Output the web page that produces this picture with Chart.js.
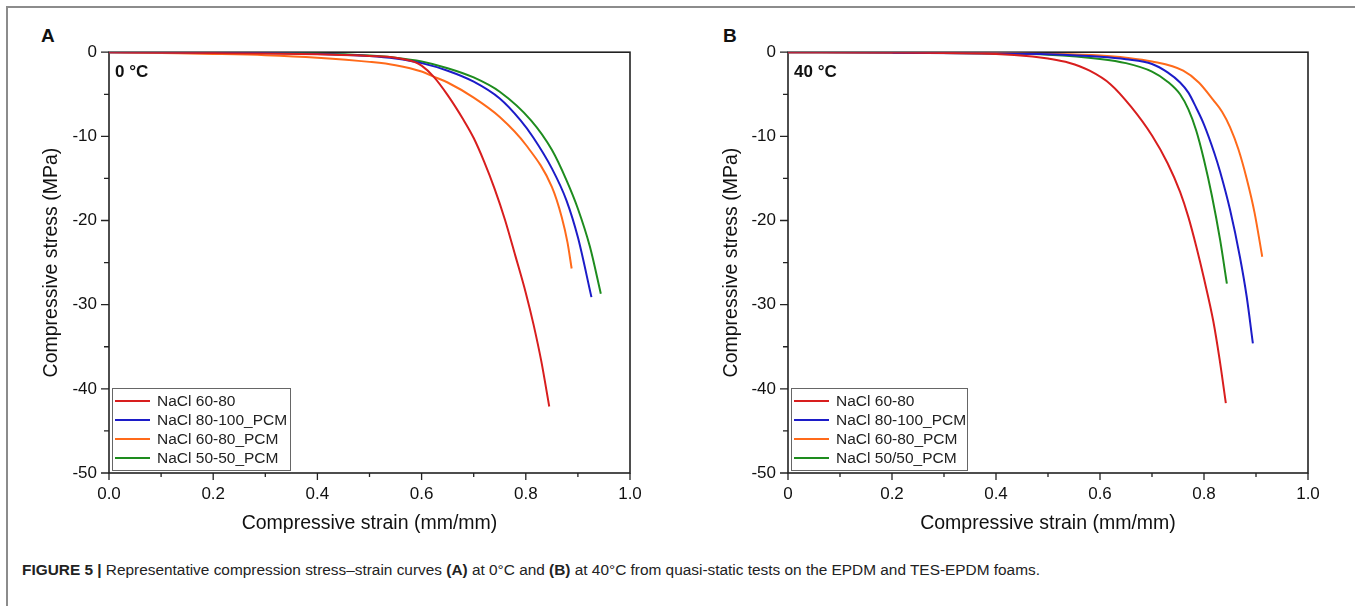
<!DOCTYPE html>
<html>
<head>
<meta charset="utf-8">
<script src="https://cdn.jsdelivr.net/npm/chart.js@4.4.1/dist/chart.umd.min.js"></script>
<style>
  body { margin: 0; width: 1355px; height: 606px; background: #fff; position: relative; overflow: hidden;
         font-family: "Liberation Sans", Arial, sans-serif; }
  #frameTop { position: absolute; left: 6px; top: 6px; width: 1349px; height: 2px; background: #8c8c8c; }
  #frameLeft { position: absolute; left: 6px; top: 6px; width: 2px; height: 600px; background: #8c8c8c; }
  .panel { position: absolute; font-weight: bold; font-size: 19px; line-height: 19px; color: #111; }
  canvas { position: absolute; }
  #caption { position: absolute; left: 22px; top: 561px; font-size: 15.4px; line-height: 18px; color: #222; white-space: nowrap; }
</style>
</head>
<body>
<div id="frameTop"></div>
<div id="frameLeft"></div>
<div class="panel" style="left:41px;top:26px">A</div>
<div class="panel" style="left:723px;top:26px">B</div>
<canvas id="chartA" width="642" height="509" style="left:36px;top:30px"></canvas>
<canvas id="chartB" width="632" height="509" style="left:716px;top:30px"></canvas>
<div id="caption"><b>FIGURE 5 |</b> Representative compression stress–strain curves <b>(A)</b> at 0°C and <b>(B)</b> at 40°C from quasi-static tests on the EPDM and TES-EPDM foams.</div>

<script>
// series labels and colours
const labelsA = ["NaCl 60-80", "NaCl 80-100_PCM", "NaCl 60-80_PCM", "NaCl 50-50_PCM"];
const labelsB = ["NaCl 60-80", "NaCl 80-100_PCM", "NaCl 60-80_PCM", "NaCl 50/50_PCM"];
const colors = ["#d81e1e", "#1c1cc8", "#ff6a1a", "#1e8c1e"];

const xTicks = [0, 0.2, 0.4, 0.6, 0.8, 1.0];
const yTicks = [0, -10, -20, -30, -40, -50];

// panel A, 0 °C : strain (mm/mm) / stress (MPa)
const strainA_red = [0, 0.1, 0.2, 0.3, 0.4, 0.5, 0.55, 0.586, 0.6, 0.623, 0.65, 0.68, 0.7, 0.72, 0.74, 0.76, 0.78, 0.8, 0.815, 0.83, 0.845];
const stressA_red = [0, -0.05, -0.1, -0.15, -0.25, -0.45, -0.65, -1.15, -1.6, -2.9, -5.1, -8.0, -10.2, -13.0, -16.2, -19.9, -24.2, -28.6, -32.4, -36.8, -42.1];
const strainA_blue = [0, 0.2, 0.4, 0.5, 0.55, 0.6, 0.65, 0.7, 0.75, 0.79, 0.814, 0.85, 0.878, 0.9, 0.926];
const stressA_blue = [0, -0.05, -0.2, -0.45, -0.75, -1.3, -2.2, -3.5, -5.5, -8.1, -10.1, -13.8, -17.6, -22.0, -29.1];
const strainA_orange = [0, 0.1, 0.2, 0.3, 0.4, 0.5, 0.55, 0.6, 0.623, 0.65, 0.7, 0.75, 0.8, 0.85, 0.869, 0.88, 0.888];
const stressA_orange = [0, -0.1, -0.2, -0.35, -0.65, -1.15, -1.55, -2.3, -2.9, -3.6, -5.4, -7.7, -11.0, -16.0, -19.6, -22.6, -25.7];
const strainA_green = [0, 0.2, 0.4, 0.5, 0.55, 0.6, 0.65, 0.7, 0.75, 0.81, 0.85, 0.878, 0.9, 0.923, 0.944];
const stressA_green = [0, -0.05, -0.15, -0.4, -0.65, -1.1, -1.9, -3.0, -4.7, -8.1, -11.6, -15.2, -18.6, -23.1, -28.7];

// panel B, 40 °C
const strainB_red = [0, 0.2, 0.4, 0.47, 0.5, 0.54, 0.58, 0.62, 0.66, 0.7, 0.73, 0.754, 0.77, 0.786, 0.8, 0.818, 0.83, 0.842];
const stressB_red = [0, -0.05, -0.2, -0.5, -0.75, -1.25, -2.2, -3.8, -6.5, -9.9, -13.2, -16.6, -19.6, -23.3, -26.9, -32.0, -36.5, -41.7];
const strainB_blue = [0, 0.2, 0.4, 0.5, 0.6, 0.65, 0.7, 0.73, 0.754, 0.77, 0.785, 0.8, 0.82, 0.831, 0.85, 0.869, 0.882, 0.894];
const stressB_blue = [0, -0.05, -0.15, -0.25, -0.55, -0.85, -1.4, -2.4, -3.6, -4.8, -6.6, -8.6, -12.0, -14.2, -18.7, -24.3, -29.0, -34.6];
const strainB_orange = [0, 0.2, 0.4, 0.5, 0.6, 0.65, 0.7, 0.76, 0.79, 0.818, 0.835, 0.85, 0.866, 0.882, 0.897, 0.912];
const stressB_orange = [0, -0.05, -0.1, -0.2, -0.4, -0.65, -1.1, -2.2, -3.6, -5.7, -7.1, -8.9, -11.5, -15.0, -19.0, -24.3];
const strainB_green = [0, 0.2, 0.4, 0.5, 0.6, 0.65, 0.7, 0.73, 0.754, 0.77, 0.785, 0.8, 0.815, 0.831, 0.844];
const stressB_green = [0, -0.05, -0.15, -0.3, -0.8, -1.3, -2.3, -3.5, -5.0, -6.8, -9.3, -12.8, -17.0, -22.3, -27.5];

const FONT = "'Liberation Sans', Arial, sans-serif";

function pts(xs, ys) {
  return xs.map((v, i) => ({ x: v, y: ys[i] }));
}

// box, ticks, temperature tag and legend
const panelDecor = {
  id: "panelDecor",
  beforeDatasetsDraw(chart, args, opts) {
    const { ctx, chartArea: a, scales: { x, y } } = chart;
    ctx.save();
    ctx.strokeStyle = "#222";
    ctx.lineWidth = 1.6;
    ctx.strokeRect(a.left, a.top, a.right - a.left, a.bottom - a.top);
    ctx.lineWidth = 1.3;
    ctx.beginPath();
    for (let i = 0; i <= 10; i++) {
      const px = x.getPixelForValue(i / 10);
      ctx.moveTo(px, a.bottom);
      ctx.lineTo(px, a.bottom + (i % 2 === 0 ? 7 : 4));
    }
    for (let i = 0; i <= 10; i++) {
      const py = y.getPixelForValue(-5 * i);
      ctx.moveTo(a.left, py);
      ctx.lineTo(a.left - (i % 2 === 0 ? 8 : 5), py);
    }
    ctx.stroke();
    ctx.restore();
  },
  afterDatasetsDraw(chart, args, opts) {
    const { ctx, chartArea: a } = chart;
    ctx.save();
    ctx.fillStyle = "#111";
    ctx.font = "bold 17px " + FONT;
    ctx.textBaseline = "alphabetic";
    ctx.fillText(opts.tag, a.left + 6, a.top + 25);

    const bx = a.left + 3, bw = opts.boxWidth, bh = 82, by = a.bottom - 3 - bh;
    ctx.fillStyle = "#fff";
    ctx.fillRect(bx, by, bw, bh);
    ctx.strokeStyle = "#666";
    ctx.lineWidth = 1;
    ctx.strokeRect(bx + 0.5, by + 0.5, bw, bh);
    ctx.font = "15.5px " + FONT;
    ctx.textBaseline = "middle";
    chart.data.datasets.forEach((ds, i) => {
      const ry = by + 13 + i * 19;
      ctx.strokeStyle = ds.borderColor;
      ctx.lineWidth = 2;
      ctx.beginPath();
      ctx.moveTo(bx + 3, ry);
      ctx.lineTo(bx + 38, ry);
      ctx.stroke();
      ctx.fillStyle = "#222";
      ctx.fillText(ds.label, bx + 45, ry + 1);
    });
    ctx.restore();
  }
};

function makeChart(id, labels, series, tag, xFmt, yWidth, padRight, boxWidth) {
  return new Chart(document.getElementById(id), {
    type: "line",
    data: {
      datasets: series.map((s, i) => ({
        label: labels[i],
        data: pts(s[0], s[1]),
        borderColor: colors[i],
        borderWidth: 2,
        pointRadius: 0,
        fill: false,
        cubicInterpolationMode: "monotone"
      }))
    },
    options: {
      responsive: false,
      animation: false,
      layout: { padding: { top: 22, right: padRight, bottom: 0, left: 0 } },
      plugins: {
        legend: { display: false },
        tooltip: { enabled: false },
        panelDecor: { tag: tag, boxWidth: boxWidth }
      },
      scales: {
        x: {
          type: "linear",
          min: 0,
          max: 1,
          afterFit: s => { s.height = 66; },
          afterBuildTicks: s => { s.ticks = xTicks.map(v => ({ value: v })); },
          grid: { display: false, drawTicks: false },
          border: { display: false },
          ticks: { padding: 11, color: "#111", font: { family: FONT, size: 17 }, callback: xFmt, maxRotation: 0 },
          title: { display: true, text: "Compressive strain (mm/mm)", color: "#111", font: { family: FONT, size: 19.5 }, padding: { top: 0, bottom: 4 } }
        },
        y: {
          type: "linear",
          min: -50,
          max: 0,
          afterFit: s => { s.width = yWidth; },
          afterBuildTicks: s => { s.ticks = yTicks.map(v => ({ value: v })); },
          grid: { display: false, drawTicks: false },
          border: { display: false },
          ticks: { padding: 12, color: "#111", font: { family: FONT, size: 17 } },
          title: { display: true, text: "Compressive stress (MPa)", color: "#111", font: { family: FONT, size: 19.5 }, padding: { top: 4, bottom: 0 } }
        }
      }
    },
    plugins: [panelDecor]
  });
}

makeChart("chartA", labelsA, [
  [strainA_red, stressA_red],
  [strainA_blue, stressA_blue],
  [strainA_orange, stressA_orange],
  [strainA_green, stressA_green]
], "0 °C", v => v.toFixed(1), 73, 48, 178);

makeChart("chartB", labelsB, [
  [strainB_red, stressB_red],
  [strainB_blue, stressB_blue],
  [strainB_orange, stressB_orange],
  [strainB_green, stressB_green]
], "40 °C", v => (v === 0 ? "0" : v.toFixed(1)), 72, 40, 176);
</script>
</body>
</html>
